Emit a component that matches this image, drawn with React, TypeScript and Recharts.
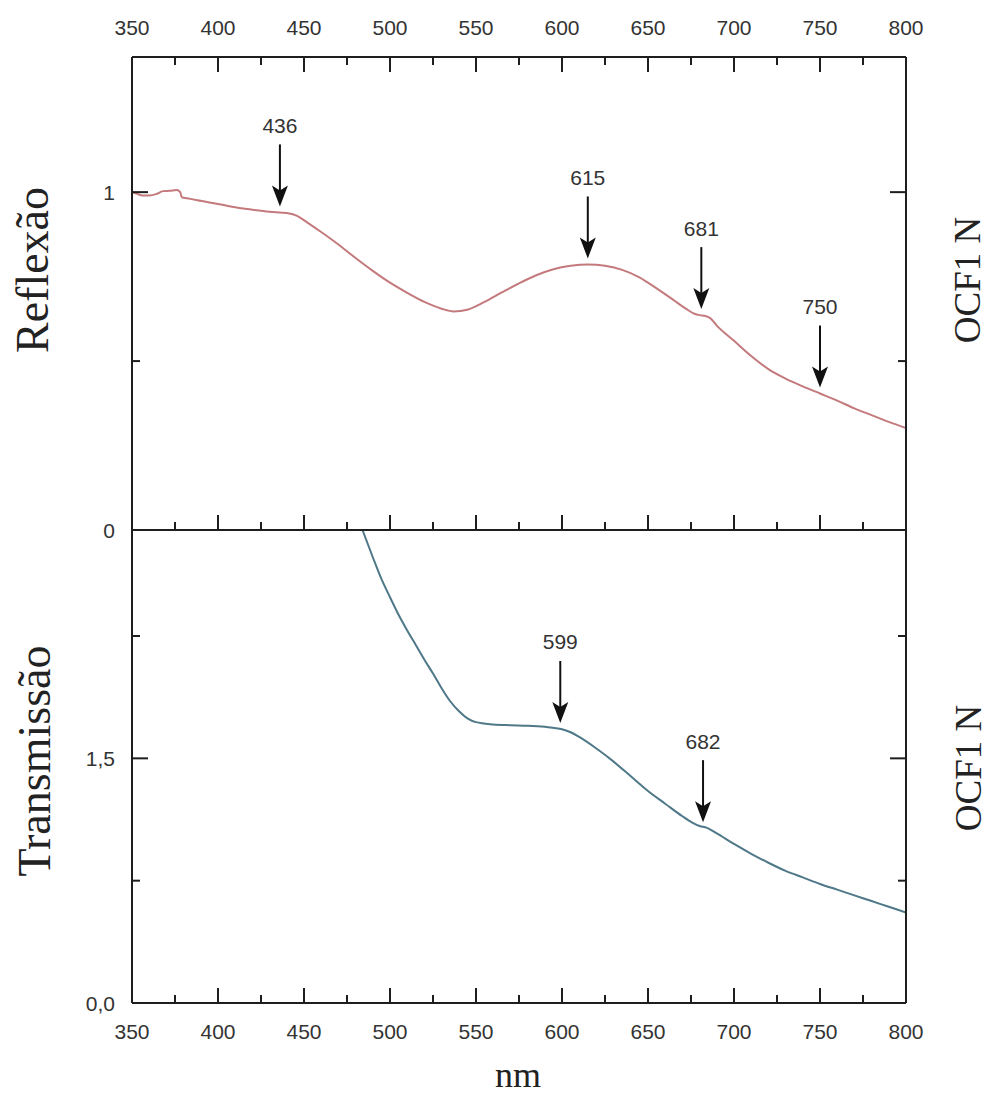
import React from 'react';
import { LineChart, Line, XAxis, YAxis, ReferenceDot } from 'recharts';

// wavelength axis ticks (major every 50, minor every 25)
const wlTicks = [350, 375, 400, 425, 450, 475, 500, 525, 550, 575, 600, 625, 650, 675, 700, 725, 750, 775, 800];

// Reflexão panel
const reflYTicks = [0, 0.5, 1];
const reflYMajor = [0, 1];
const reflWl = [350, 353, 356, 360, 364, 368, 372, 376, 378, 379, 382, 388, 400, 410, 420, 430, 440, 446, 452, 460, 470, 480, 490, 500, 510, 520, 530, 537, 545, 555, 565, 575, 585, 595, 605, 615, 625, 635, 645, 655, 665, 672, 677, 680, 683, 686, 690, 700, 710, 720, 730, 740, 750, 760, 770, 780, 790, 800];
const reflVal = [1.0, 0.995, 0.99, 0.99, 0.994, 1.003, 1.004, 1.006, 1.0, 0.985, 0.982, 0.976, 0.965, 0.955, 0.948, 0.942, 0.938, 0.93, 0.91, 0.882, 0.845, 0.805, 0.767, 0.732, 0.702, 0.675, 0.655, 0.647, 0.652, 0.675, 0.703, 0.73, 0.754, 0.772, 0.782, 0.786, 0.782, 0.77, 0.748, 0.715, 0.68, 0.655, 0.64, 0.636, 0.634, 0.628, 0.605, 0.56, 0.515, 0.476, 0.448, 0.425, 0.404, 0.383, 0.36, 0.34, 0.32, 0.302];
const reflPeaks = [436, 615, 681, 750];
const reflPeakVal = [0.94, 0.786, 0.636, 0.404];

// Transmissão panel
const tranYTicks = [0, 0.75, 1.5, 2.25];
const tranYMajor = [0, 1.5];
const tranWl = [484, 490, 495, 500, 505, 510, 515, 520, 525, 530, 535, 540, 545, 550, 560, 570, 580, 590, 600, 605, 610, 620, 630, 640, 650, 660, 670, 676, 680, 684, 690, 700, 710, 720, 730, 740, 750, 760, 770, 780, 790, 800];
const tranVal = [2.9, 2.733, 2.6, 2.488, 2.38, 2.284, 2.195, 2.105, 2.02, 1.93, 1.85, 1.79, 1.745, 1.722, 1.708, 1.703, 1.7, 1.693, 1.678, 1.66, 1.631, 1.56, 1.48, 1.39, 1.3, 1.222, 1.145, 1.105, 1.085, 1.075, 1.04, 0.975, 0.915, 0.86, 0.81, 0.77, 0.73, 0.695, 0.66, 0.625, 0.59, 0.555];
const tranPeaks = [599, 682];
const tranPeakVal = [1.68, 1.072];

const AXIS = '#1e1e1e';
const SANS = '"Liberation Sans", Arial, sans-serif';
const SERIF = '"Liberation Serif", "Times New Roman", serif';

const XTick = (p: any) => {
  const { x, y, payload, side, showLabel, showLine } = p;
  const v = payload.value;
  const major = v % 50 === 0;
  const dir = side === 'top' ? 1 : -1;
  return (
    <g>
      {showLine && <line x1={x} x2={x} y1={y} y2={y + dir * (major ? 15 : 8)} stroke={AXIS} strokeWidth={2} />}
      {showLabel && major && (
        <text x={x} y={side === 'top' ? y - 30 : y + 28} textAnchor="middle" dominantBaseline="central"
          fontSize={21} fill="#333" fontFamily={SANS}>{v}</text>
      )}
    </g>
  );
};

const YTick = (p: any) => {
  const { x, y, payload, side, majors, fmt } = p;
  const v = payload.value;
  const major = majors.includes(v);
  const dir = side === 'left' ? 1 : -1;
  return (
    <g>
      <line x1={x} x2={x + dir * (major ? 16 : 8)} y1={y} y2={y} stroke={AXIS} strokeWidth={2} />
      {fmt && major && (
        <text x={x - 17} y={y} textAnchor="end" dominantBaseline="central" fontSize={21} fill="#333" fontFamily={SANS}>{fmt(v)}</text>
      )}
    </g>
  );
};

const Arrow = ({ cx, cy, label }: any) => {
  const tip = cy - 6;
  const len = 62;
  return (
    <g>
      <line x1={cx} x2={cx} y1={tip - len} y2={tip - 12} stroke="#111" strokeWidth={2} />
      <path d={`M${cx},${tip} L${cx - 8},${tip - 21} L${cx},${tip - 16} L${cx + 8},${tip - 21} Z`} fill="#111" />
      <text x={cx} y={tip - len - 19} textAnchor="middle" dominantBaseline="central" fontSize={21} fill="#333" fontFamily={SANS}>{label}</text>
    </g>
  );
};

type PanelProps = {
  wl: number[]; val: number[]; color: string; yMax: number;
  yTicks: number[]; yMajor: number[]; fmt: (v: number) => string;
  peaks: number[]; peakVal: number[];
  top: boolean; height: number; margin: any;
};

const Panel = ({ wl, val, color, yMax, yTicks, yMajor, fmt, peaks, peakVal, top, height, margin }: PanelProps) => {
  const data = wl.map((nm, i) => ({ nm, v: val[i] }));
  return (
    <LineChart width={989} height={height} data={data} margin={margin}>
      <XAxis xAxisId="t" orientation="top" type="number" dataKey="nm" domain={[350, 800]} allowDataOverflow
        ticks={wlTicks} interval={0} height={1} tickSize={0} tickMargin={0} tickLine={false}
        axisLine={{ stroke: AXIS, strokeWidth: 2 }}
        tick={(p: any) => <XTick {...p} side="top" showLabel={top} showLine={top} />} />
      <XAxis xAxisId="b" orientation="bottom" type="number" dataKey="nm" domain={[350, 800]} allowDataOverflow
        ticks={wlTicks} interval={0} height={1} tickSize={0} tickMargin={0} tickLine={false}
        axisLine={{ stroke: AXIS, strokeWidth: 2 }}
        tick={(p: any) => <XTick {...p} side="bottom" showLabel={!top} showLine />} />
      <YAxis yAxisId="l" orientation="left" type="number" domain={[0, yMax]} allowDataOverflow
        ticks={yTicks} interval={0} width={1} tickSize={0} tickMargin={0} tickLine={false}
        axisLine={{ stroke: AXIS, strokeWidth: 2 }}
        tick={(p: any) => <YTick {...p} side="left" majors={yMajor} fmt={fmt} />} />
      <YAxis yAxisId="r" orientation="right" type="number" domain={[0, yMax]} allowDataOverflow
        ticks={yTicks} interval={0} width={1} tickSize={0} tickMargin={0} tickLine={false}
        axisLine={{ stroke: AXIS, strokeWidth: 2 }}
        tick={(p: any) => <YTick {...p} side="right" majors={yMajor} />} />
      <Line xAxisId="b" yAxisId="l" type="monotone" dataKey="v" stroke={color} strokeWidth={2}
        dot={false} activeDot={false} isAnimationActive={false} />
      {peaks.map((nm, i) => (
        <ReferenceDot key={nm} xAxisId="b" yAxisId="l" x={nm} y={peakVal[i]} r={0}
          shape={(p: any) => <Arrow cx={p.cx} cy={p.cy} label={String(nm)} />} />
      ))}
    </LineChart>
  );
};

export default function App() {
  return (
    <div style={{ position: 'absolute', left: 0, top: 0, width: 989, height: 1094, background: '#fff' }}>
      <div style={{ position: 'absolute', left: 0, top: 0 }}>
        <Panel wl={reflWl} val={reflVal} color="#c47a7d" yMax={1.4} yTicks={reflYTicks} yMajor={reflYMajor}
          fmt={(v) => String(v)} peaks={reflPeaks} peakVal={reflPeakVal} top height={560}
          margin={{ top: 56, left: 131, right: 82, bottom: 29 }} />
      </div>
      <div style={{ position: 'absolute', left: 0, top: 500 }}>
        <Panel wl={tranWl} val={tranVal} color="#4f7888" yMax={2.9} yTicks={tranYTicks} yMajor={tranYMajor}
          fmt={(v) => v.toFixed(1).replace('.', ',')} peaks={tranPeaks} peakVal={tranPeakVal} top={false} height={594}
          margin={{ top: 29, left: 131, right: 82, bottom: 90 }} />
      </div>
      <svg width={989} height={1094} style={{ position: 'absolute', left: 0, top: 0, pointerEvents: 'none' }}>
        <text transform="translate(48,270) rotate(-90)" textAnchor="middle" fontSize={46} fill="#222" fontFamily={SERIF}>Reflexão</text>
        <text transform="translate(50,761) rotate(-90)" textAnchor="middle" fontSize={46} fill="#222" fontFamily={SERIF}>Transmissão</text>
        <text transform="translate(980,280) rotate(-90)" textAnchor="middle" fontSize={37} fill="#222" fontFamily={SERIF}>OCF1 N</text>
        <text transform="translate(981,768) rotate(-90)" textAnchor="middle" fontSize={37} fill="#222" fontFamily={SERIF}>OCF1 N</text>
        <text x={518} y={1087} textAnchor="middle" fontSize={36} fill="#222" fontFamily={SERIF}>nm</text>
      </svg>
    </div>
  );
}
